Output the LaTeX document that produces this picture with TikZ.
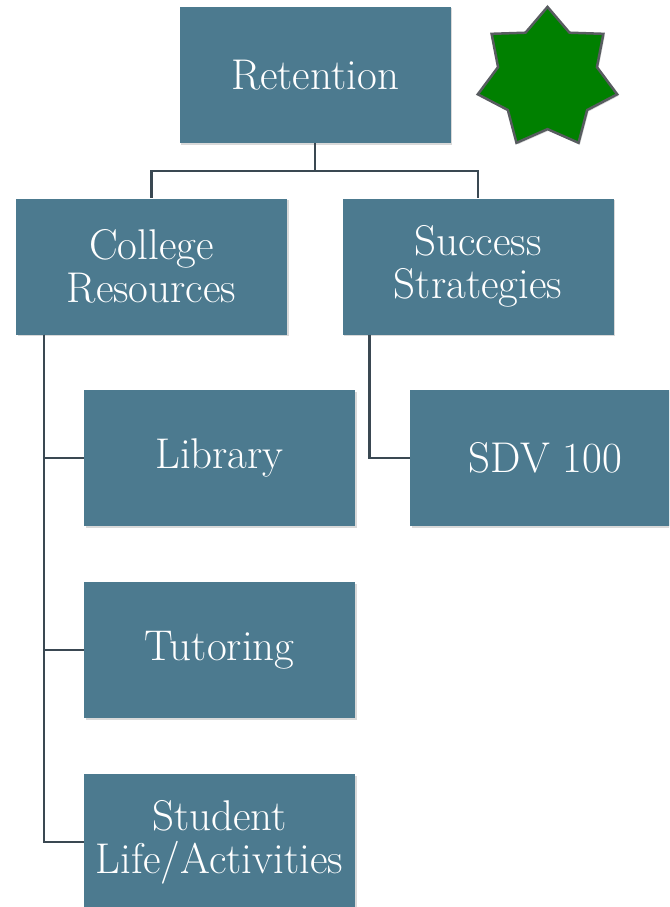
\documentclass[tikz,border=0pt]{standalone}
\usepackage{tikz}
\usetikzlibrary{positioning,shapes.geometric,shadows}

\definecolor{boxblue}{RGB}{76,122,143}
\definecolor{linkgrey}{RGB}{58,72,82}
\definecolor{stargreen}{RGB}{0,128,0}
\definecolor{starrim}{RGB}{88,92,96}

\begin{document}
\begin{tikzpicture}[
    x=1pt, y=-1pt,
    box/.style={rectangle, fill=boxblue, text=white, minimum width=271pt, minimum height=136pt,
        inner sep=0pt, align=center, font=\fontsize{43}{43}\selectfont,
        drop shadow={opacity=0.3, shadow xshift=1.5pt, shadow yshift=-1.5pt}},
    link/.style={draw=linkgrey, line width=2.5pt}
]
\useasboundingbox (0,0) rectangle (669,907);
\clip (0,0) rectangle (669,907);

\node[box] (retention) at (315,75) {Retention};
\node[star, star points=7, star point ratio=1.41, minimum size=143pt, inner sep=0pt,
    fill=stargreen, draw=starrim, line width=2.5pt,
    drop shadow={opacity=0.3, shadow xshift=1.5pt, shadow yshift=-1.5pt}] (badge) at (547.5,78.4) {};

\node[box] (college) at (151.5,266.5) {College\\Resources};
\node[box] (success) at (478,266.5) {Success\\Strategies};
\node[box] (library) at (219.5,458) {Library};
\node[box] (sdv) at (545.5,458) {SDV 100};
\node[box] (tutoring) at (219.5,650) {Tutoring};
\node[box] (student) at (219.5,842) {Student\\Life/Activities};

\coordinate (split) at (315,171);
\draw[link] (retention.south) -- (split) -| (college.north);
\draw[link] (split) -| (success.north);
\draw[link] ([xshift=28pt]college.south west) |- (library.west);
\draw[link] ([xshift=28pt]college.south west) |- (tutoring.west);
\draw[link] ([xshift=28pt]college.south west) |- (student.west);
\draw[link] ([xshift=27pt]success.south west) |- (sdv.west);
\end{tikzpicture}
\end{document}
